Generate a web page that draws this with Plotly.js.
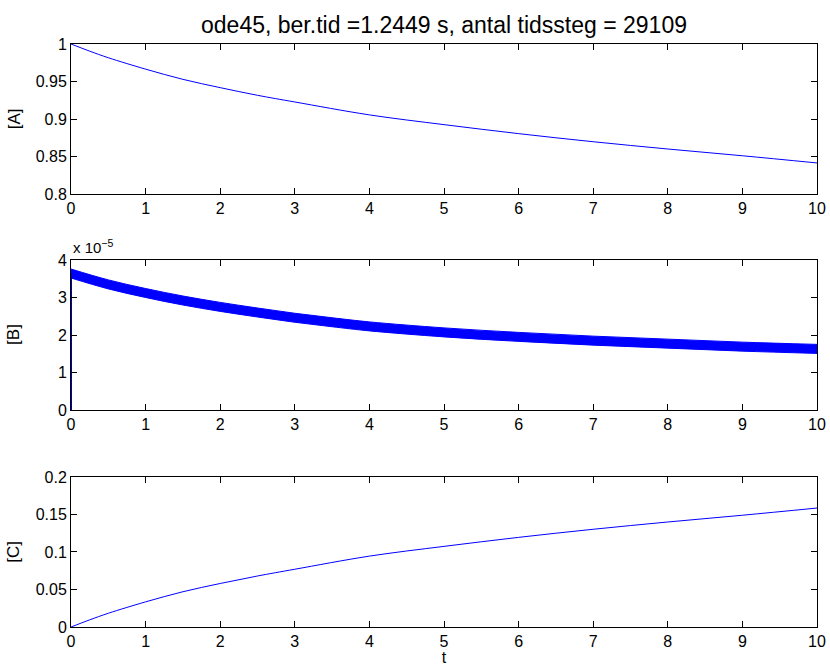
<!DOCTYPE html>
<html><head><meta charset="utf-8">
<script src="https://cdn.plot.ly/plotly-3.0.1.min.js"></script>
<style>html,body{margin:0;padding:0;background:#fff;}#plot{width:830px;height:666px;}</style>
</head><body><div id="plot"></div>
<script>
// Concentrations
const tAC = [0, 0.25, 0.5, 1, 1.5, 2, 2.5, 3, 4, 5, 6, 7, 8, 9, 10];
const concA = [1, 0.9905, 0.9817, 0.9665, 0.9529, 0.9418, 0.9316, 0.9227, 0.9055, 0.8925, 0.8805, 0.8697, 0.8600, 0.8510, 0.8414];
const concC = [0, 0.0095, 0.0183, 0.0335, 0.047, 0.058, 0.068, 0.077, 0.0945, 0.1075, 0.1195, 0.1303, 0.140, 0.149, 0.1586];
// [B] in units of 1e-5: noisy band (upper/lower envelope) plus the initial rise at t=0
const tB = [0, 0.5, 1, 1.5, 2, 2.5, 3, 3.5, 4, 5, 6, 7, 8, 9, 10];
const concBhi = [3.76, 3.47, 3.24, 3.04, 2.87, 2.72, 2.58, 2.46, 2.35, 2.19, 2.07, 1.97, 1.89, 1.81, 1.75];
const concBlo = [3.52, 3.23, 3.00, 2.80, 2.63, 2.48, 2.34, 2.22, 2.11, 1.95, 1.83, 1.73, 1.65, 1.57, 1.51];
const tRise = [0, 0];
const concBrise = [0, 3.65];

const xTicks = [0,1,2,3,4,5,6,7,8,9,10];
const ticksA = [0.8, 0.85, 0.9, 0.95, 1];
const ticksB = [0, 1, 2, 3, 4];
const ticksC = [0, 0.05, 0.1, 0.15, 0.2];

const blue = '#0000ff';
const fam = 'Liberation Sans, Arial, sans-serif';
const font = {family: fam, size: 16, color: '#000'};
const labFont = {family: fam, size: 17, color: '#000'};

const traces = [
  {x: tAC, y: concA, xaxis: 'x', yaxis: 'y', mode: 'lines', line: {color: blue, width: 1, shape: 'spline'}},
  {x: tB, y: concBlo, xaxis: 'x2', yaxis: 'y2', mode: 'lines', line: {color: blue, width: 1, shape: 'spline'}},
  {x: tB, y: concBhi, xaxis: 'x2', yaxis: 'y2', mode: 'lines', fill: 'tonexty', fillcolor: blue, line: {color: blue, width: 1, shape: 'spline'}},
  {x: tRise, y: concBrise, xaxis: 'x2', yaxis: 'y2', mode: 'lines', line: {color: '#0000b0', width: 2}},
  {x: tAC, y: concC, xaxis: 'x3', yaxis: 'y3', mode: 'lines', line: {color: blue, width: 1, shape: 'spline'}}
];

function xax(anchor){
  return {range: [0, 10], tickvals: xTicks, ticks: 'inside', ticklen: 6, tickcolor: '#000',
    showline: true, linecolor: '#000', linewidth: 1, mirror: 'ticks', showgrid: false, zeroline: false,
    anchor: anchor, tickfont: font, domain: [0, 1]};
}
function yax(range, vals, dom, anchor){
  return {range: range, tickvals: vals, ticks: 'inside', ticklen: 6, tickcolor: '#000',
    showline: true, linecolor: '#000', linewidth: 1, mirror: 'ticks', showgrid: false, zeroline: false,
    anchor: anchor, tickfont: font, domain: dom};
}

const xa3 = xax('y3');
xa3.title = {text: 't', font: font, standoff: 0};

const layout = {
  width: 830, height: 666,
  margin: {l: 71, r: 13, t: 44, b: 39},
  paper_bgcolor: '#fff', plot_bgcolor: '#fff',
  showlegend: false,
  title: {text: 'ode45, ber.tid =1.2449 s, antal tidssteg = 29109', font: {family: fam, size: 23, color: '#000'}, x: 0.5, xref: 'paper', xanchor: 'center', y: 0.963, yanchor: 'middle'},
  xaxis: xax('y'),
  xaxis2: xax('y2'),
  xaxis3: xa3,
  yaxis: yax([0.8, 1], ticksA, [0.7427, 1], 'x'),
  yaxis2: yax([0, 4], ticksB, [0.3722, 0.6295], 'x2'),
  yaxis3: yax([0, 0.2], ticksC, [0, 0.2573], 'x3'),
  annotations: [
    {text: '[A]', xref: 'paper', yref: 'paper', x: -0.0764, y: 0.871, textangle: -90, showarrow: false, font: labFont, xanchor: 'center', yanchor: 'middle'},
    {text: '[B]', xref: 'paper', yref: 'paper', x: -0.0764, y: 0.501, textangle: -90, showarrow: false, font: labFont, xanchor: 'center', yanchor: 'middle'},
    {text: '[C]', xref: 'paper', yref: 'paper', x: -0.0764, y: 0.129, textangle: -90, showarrow: false, font: labFont, xanchor: 'center', yanchor: 'middle'},
    {text: 'x 10<sup>−5</sup>', xref: 'paper', yref: 'paper', x: 0, y: 0.6295, xanchor: 'left', yanchor: 'bottom', yshift: 2, showarrow: false, font: {family: fam, size: 15, color: '#000'}}
  ]
};

Plotly.newPlot('plot', traces, layout, {displayModeBar: false, staticPlot: true});
</script></body></html>
